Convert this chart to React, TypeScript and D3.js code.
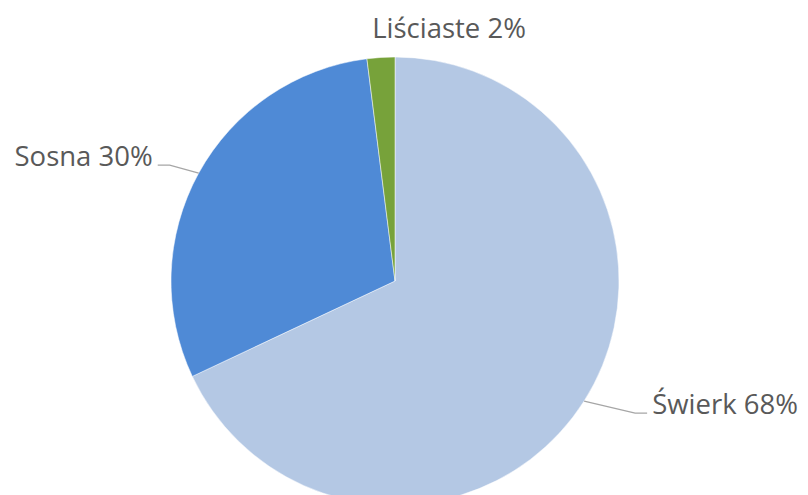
import * as d3 from 'd3';
import { useEffect, useRef } from 'react';

const categories = ['Świerk', 'Sosna', 'Liściaste'];
const shares = [68, 30, 2];
const colors = ['#b4c8e4', '#4f8ad6', '#77a23a'];

const width = 808;
const height = 495;

export default function App() {
  const ref = useRef<SVGSVGElement>(null);

  useEffect(() => {
    const svg = d3.select(ref.current);
    svg.selectAll('*').remove();

    const cx = 395;
    const cy = 281;
    const radius = 224;

    const pie = d3
      .pie<number>()
      .sort(null)
      .value((d) => d);
    const arcs = pie(shares);

    const arc = d3
      .arc<d3.PieArcDatum<number>>()
      .innerRadius(0)
      .outerRadius(radius);

    const g = svg.append('g').attr('transform', `translate(${cx},${cy})`);

    g.selectAll('path')
      .data(arcs)
      .enter()
      .append('path')
      .attr('d', arc)
      .style('fill', (d, i) => colors[i])
      .style('stroke', '#ffffff')
      .style('stroke-width', 0.5);

    // label placement: elbow offset from the slice edge, horizontal stub, side
    const layout = [
      { dx: 51, dy: 12, stub: 12, side: 1, leader: true },
      { dx: -29, dy: -8, stub: 12, side: -1, leader: true },
      { dx: 0, dy: 0, stub: 0, side: 0, leader: false },
    ];

    const point = (a: number, r: number) => [Math.sin(a) * r, -Math.cos(a) * r];

    arcs.forEach((d, i) => {
      const mid = (d.startAngle + d.endAngle) / 2;
      const L = layout[i];
      const label = `${categories[i]} ${shares[i]}%`;
      const text = g
        .append('text')
        .style('font-family', 'Open Sans, sans-serif')
        .style('font-size', '27.5px')
        .style('fill', '#595959')
        .text(label);
      if (L.leader) {
        const p0 = point(mid, radius);
        const p1 = [p0[0] + L.dx, p0[1] + L.dy];
        const p2 = [p1[0] + L.stub * L.side, p1[1]];
        g.append('polyline')
          .attr('points', [p0, p1, p2].map((p) => p.join(',')).join(' '))
          .style('fill', 'none')
          .style('stroke', '#a6a6a6')
          .style('stroke-width', 1.3);
        text
          .attr('x', p2[0] + 5 * L.side)
          .attr('y', p2[1] + 1)
          .style('text-anchor', L.side > 0 ? 'start' : 'end');
      } else {
        text
          .attr('x', 54)
          .attr('y', -radius - 19)
          .style('text-anchor', 'middle');
      }
    });
  }, []);

  return (
    <svg
      ref={ref}
      width={width}
      height={height}
      style={{ position: 'absolute', left: 0, top: 0, background: '#ffffff' }}
    />
  );
}
